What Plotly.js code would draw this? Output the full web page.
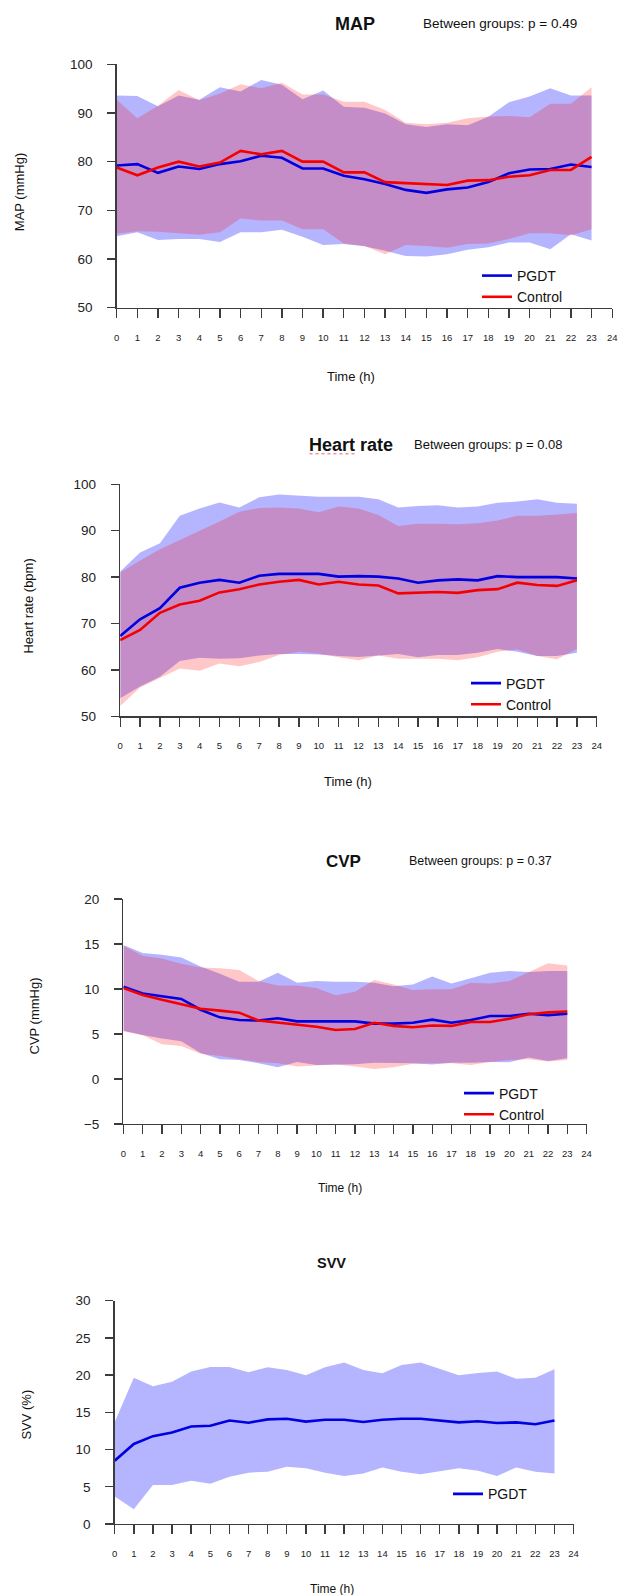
<!DOCTYPE html>
<html>
<head>
<meta charset="utf-8">
<script src="https://cdn.plot.ly/plotly-3.0.1.min.js"></script>
<style>html,body{margin:0;padding:0;background:#fff;}#chart{width:618px;height:1595px;}</style>
</head>
<body>
<div id="chart"></div>
<script>
// ---------- data ----------
const hours = [0,1,2,3,4,5,6,7,8,9,10,11,12,13,14,15,16,17,18,19,20,21,22,23];
const xTicks = [0,1,2,3,4,5,6,7,8,9,10,11,12,13,14,15,16,17,18,19,20,21,22,23,24];

// MAP
const mapPgdtMean  = [79.2,79.5,77.7,79.0,78.5,79.5,80.1,81.2,80.8,78.6,78.6,77.1,76.4,75.4,74.2,73.6,74.3,74.7,75.8,77.6,78.4,78.5,79.4,78.9];
const mapCtrlMean  = [78.8,77.2,78.8,80.0,79.0,79.8,82.2,81.5,82.2,80.0,80.0,77.8,77.8,75.8,75.6,75.4,75.2,76.1,76.2,76.9,77.2,78.3,78.3,81.0];
const mapPgdtUpper = [93.6,93.5,91.4,93.6,92.7,95.3,94.4,96.8,95.8,92.8,94.6,91.3,91.1,89.9,87.7,87.1,87.7,87.5,89.2,92.2,93.4,95.1,93.6,93.6];
const mapCtrlUpper = [92.7,88.9,91.5,94.7,92.6,94.0,95.9,95.1,96.2,93.8,93.8,92.3,92.3,90.6,88.0,87.7,88.0,88.9,89.3,89.4,89.1,91.9,91.9,95.3];
const mapPgdtLower = [64.7,65.5,63.9,64.1,64.1,63.5,65.5,65.5,66.0,64.6,62.9,63.1,62.6,61.7,60.6,60.5,61.0,61.9,62.4,63.4,63.4,62.0,65.1,63.8];
const mapCtrlLower = [65.2,65.7,65.6,65.3,65.0,65.5,68.3,67.9,67.9,66.1,66.1,63.2,62.7,61.0,62.9,62.7,62.3,63.1,63.2,64.1,65.3,65.3,64.9,66.1];

// Heart rate
const hrPgdtMean  = [67.3,70.9,73.3,77.7,78.8,79.4,78.8,80.3,80.7,80.7,80.7,80.1,80.2,80.1,79.7,78.8,79.3,79.5,79.3,80.2,80.0,80.0,80.0,79.7];
const hrCtrlMean  = [66.4,68.6,72.3,74.1,74.9,76.7,77.4,78.4,79.0,79.4,78.4,79.0,78.4,78.2,76.5,76.7,76.8,76.6,77.2,77.4,78.8,78.3,78.1,79.3];
const hrPgdtUpper = [81.2,85.3,87.3,93.2,94.8,96.1,95.0,97.2,97.8,97.6,97.3,97.3,97.3,96.8,95.0,95.3,95.5,95.0,95.2,96.0,96.3,96.8,96.0,95.8];
const hrCtrlUpper = [81.0,83.6,86.0,88.0,89.9,92.0,94.1,94.9,95.0,94.8,94.0,95.2,94.8,93.4,91.0,91.5,91.5,91.4,91.6,92.2,93.2,93.2,93.5,93.8];
const hrPgdtLower = [53.9,56.4,58.5,61.9,62.6,62.4,62.5,63.1,63.4,63.4,63.3,63.0,62.8,63.1,63.4,62.7,63.2,63.2,63.7,64.5,63.9,63.0,63.0,63.7];
const hrCtrlLower = [52.2,56.2,58.3,60.3,59.8,61.4,60.8,61.7,63.2,63.9,63.5,62.7,62.1,63.1,62.4,62.4,62.4,62.1,62.7,63.9,64.4,63.0,62.3,64.5];

// CVP
const cvpPgdtMean  = [10.26,9.5,9.2,8.9,7.7,6.85,6.55,6.5,6.75,6.4,6.4,6.4,6.4,6.15,6.15,6.25,6.6,6.25,6.55,7.0,7.0,7.25,7.1,7.25];
const cvpCtrlMean  = [10.1,9.33,8.8,8.33,7.8,7.6,7.37,6.5,6.25,6.0,5.8,5.45,5.55,6.25,5.9,5.75,5.95,5.9,6.33,6.33,6.7,7.2,7.4,7.5];
const cvpPgdtUpper = [14.9,14.0,13.8,13.5,12.5,11.7,10.8,10.8,11.8,10.7,10.9,10.8,10.8,10.7,10.3,10.5,11.4,10.6,11.2,11.8,12.0,11.9,12.0,12.0];
const cvpCtrlUpper = [14.8,13.7,13.4,12.8,12.4,12.3,12.1,10.9,10.4,10.4,10.1,9.3,9.7,11.0,10.5,9.9,9.96,9.96,10.7,10.6,10.9,11.9,12.85,12.6];
const cvpPgdtLower = [5.35,4.9,4.5,4.2,2.9,2.2,2.1,1.75,1.3,1.9,1.55,1.6,1.65,1.8,1.8,1.75,1.6,1.8,1.8,1.9,1.85,2.4,2.0,2.3];
const cvpCtrlLower = [5.3,4.85,3.85,3.67,2.8,2.55,2.2,1.9,1.75,1.4,1.5,1.6,1.4,1.1,1.3,1.7,1.75,1.75,1.55,1.9,2.1,2.2,1.95,2.1];

// SVV
const svvMean  = [8.5,10.75,11.8,12.3,13.1,13.2,13.9,13.6,14.06,14.15,13.75,14.0,14.0,13.7,14.0,14.15,14.15,13.9,13.65,13.8,13.57,13.65,13.4,13.9];
const svvUpper = [13.7,19.66,18.5,19.1,20.5,21.1,21.1,20.4,21.05,20.7,20.0,21.05,21.7,20.7,20.24,21.36,21.7,20.8,20.0,20.3,20.5,19.5,19.66,20.8];
const svvLower = [3.7,1.97,5.24,5.24,5.8,5.4,6.36,6.9,7.03,7.7,7.48,6.9,6.45,6.8,7.6,7.03,6.7,7.1,7.48,7.17,6.45,7.6,7.03,6.8];

// ---------- styling ----------
const W = 618, H = 1595;
const FONT = '"Liberation Sans", Arial, Helvetica, sans-serif';
const BLUE = 'rgb(0,0,225)', RED = 'rgb(245,0,0)';
const BLUE_FILL = 'rgba(0,0,255,0.29)', RED_FILL = 'rgba(255,0,0,0.22)';
const AX = '#3c3c3c';
const fx = p => p / W;
const fy = p => 1 - p / H;

function band(lo, hi, color, n) {
  return {x: hours.concat(hours.slice().reverse()), y: hi.concat(lo.slice().reverse()),
    type: 'scatter', mode: 'lines', fill: 'toself', fillcolor: color, line: {width: 0},
    hoverinfo: 'skip', showlegend: false, xaxis: 'x' + n, yaxis: 'y' + n};
}
function meanLine(y, color, name, n, leg) {
  return {x: hours, y: y, type: 'scatter', mode: 'lines', name: name,
    line: {color: color, width: 2.6}, xaxis: 'x' + n, yaxis: 'y' + n, legend: leg};
}

const traces = [
  band(mapPgdtLower, mapPgdtUpper, BLUE_FILL, ''), band(mapCtrlLower, mapCtrlUpper, RED_FILL, ''),
  meanLine(mapPgdtMean, BLUE, 'PGDT', '', 'legend'), meanLine(mapCtrlMean, RED, 'Control', '', 'legend'),
  band(hrPgdtLower, hrPgdtUpper, BLUE_FILL, 2), band(hrCtrlLower, hrCtrlUpper, RED_FILL, 2),
  meanLine(hrPgdtMean, BLUE, 'PGDT', 2, 'legend2'), meanLine(hrCtrlMean, RED, 'Control', 2, 'legend2'),
  band(cvpPgdtLower, cvpPgdtUpper, BLUE_FILL, 3), band(cvpCtrlLower, cvpCtrlUpper, RED_FILL, 3),
  meanLine(cvpPgdtMean, BLUE, 'PGDT', 3, 'legend3'), meanLine(cvpCtrlMean, RED, 'Control', 3, 'legend3'),
  band(svvLower, svvUpper, BLUE_FILL, 4),
  meanLine(svvMean, BLUE, 'PGDT', 4, 'legend4')
];

function xAxis(x0, x1, yName) {
  return {domain: [fx(x0), fx(x1)], range: [0, 24], tickvals: xTicks, ticks: 'outside', ticklen: 9,
    tickwidth: 1.4, tickcolor: AX, showline: true, linecolor: AX, linewidth: 1.4, showgrid: false,
    zeroline: false, anchor: yName, ticklabelstandoff: 11, ticklabeloverflow: 'allow',
    tickfont: {size: 9.5, color: '#222', family: FONT}};
}
function yAxis(y0, y1, range, vals, xName) {
  return {domain: [fy(y0), fy(y1)], range: range, tickvals: vals, ticks: 'outside', ticklen: 8,
    tickwidth: 1.4, tickcolor: AX, showline: true, linecolor: AX, linewidth: 1.4, showgrid: false,
    zeroline: false, anchor: xName, ticklabelstandoff: 12, ticklabeloverflow: 'allow',
    tickfont: {size: 13.5, color: '#222', family: FONT}};
}
function legendAt(px, py) {
  return {x: fx(px), y: fy(py), xanchor: 'left', yanchor: 'middle', bgcolor: 'rgba(0,0,0,0)',
    font: {size: 14, color: '#111', family: FONT}, tracegroupgap: 0};
}
function txt(text, px, py, size, opts) {
  return Object.assign({text: text, x: fx(px), y: fy(py), xref: 'paper', yref: 'paper', showarrow: false,
    xanchor: 'center', yanchor: 'middle', font: {size: size, color: '#111', family: FONT}}, opts || {});
}

const layout = {
  width: W, height: H, margin: {l: 0, r: 0, t: 0, b: 0}, paper_bgcolor: '#fff', plot_bgcolor: 'rgba(0,0,0,0)',
  font: {family: FONT},
  xaxis: xAxis(116.7, 612.2, 'y'),   yaxis: yAxis(307.7, 64.3, [50, 100], [50,60,70,80,90,100], 'x'),
  xaxis2: xAxis(120.2, 596.8, 'y2'), yaxis2: yAxis(716.3, 484.3, [50, 100], [50,60,70,80,90,100], 'x2'),
  xaxis3: xAxis(123.4, 586.6, 'y3'), yaxis3: yAxis(1124, 899, [-5, 20], [-5,0,5,10,15,20], 'x3'),
  xaxis4: xAxis(114.7, 573.6, 'y4'), yaxis4: yAxis(1524, 1300.7, [0, 30], [0,5,10,15,20,25,30], 'x4'),
  legend: legendAt(477, 286.5), legend2: legendAt(466, 694), legend3: legendAt(459, 1104), legend4: legendAt(448, 1494.3),
  annotations: [
    txt('<b>MAP</b>', 354.8, 24, 18),
    txt('Between groups: p = 0.49', 421, 24, 13.5, {xanchor: 'left'}),
    txt('Time (h)', 350.9, 376, 13),
    txt('MAP (mmHg)', 19.7, 192.5, 13, {textangle: -90}),

    txt('<b>Heart rate</b>', 350.8, 445, 18),
    txt('Between groups: p = 0.08', 412, 444, 13, {xanchor: 'left'}),
    txt('Time (h)', 348, 781, 13),
    txt('Heart rate (bpm)', 27.6, 606, 13, {textangle: -90}),

    txt('<b>CVP</b>', 343, 861.7, 17),
    txt('Between groups: p = 0.37', 407.2, 861, 12.5, {xanchor: 'left'}),
    txt('Time (h)', 340, 1188, 12),
    txt('CVP (mmHg)', 33.5, 1016, 13, {textangle: -90}),

    txt('<b>SVV</b>', 331, 1262.7, 14.5),
    txt('Time (h)', 332, 1589, 12),
    txt('SVV (%)', 25.6, 1415, 13, {textangle: -90})
  ],
  shapes: [
    {type: 'line', xref: 'paper', yref: 'paper', x0: fx(309.5), x1: fx(356.8), y0: fy(453.8), y1: fy(453.8),
     line: {color: 'rgba(230,60,60,0.8)', width: 1, dash: 'dot'}}
  ]
};

Plotly.newPlot('chart', traces, layout, {displayModeBar: false, staticPlot: true});
</script>
</body>
</html>
